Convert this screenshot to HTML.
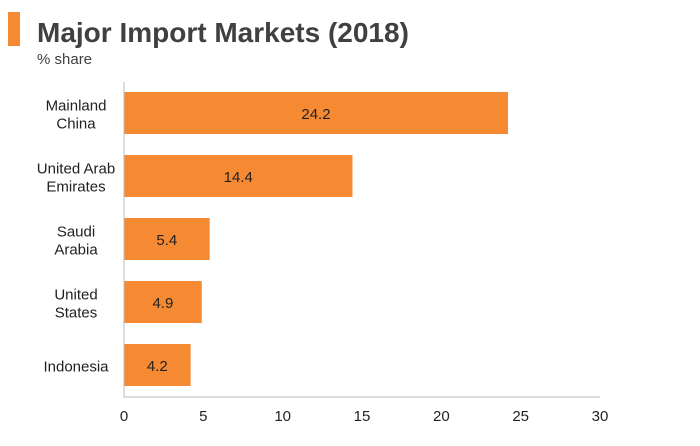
<!DOCTYPE html>
<html><head><meta charset="utf-8"><style>
body{margin:0;background:#fff;font-family:"Liberation Sans",Arial,sans-serif}
svg{display:block}
</style></head><body>
<svg width="700" height="446" xmlns="http://www.w3.org/2000/svg">
<rect x="8" y="12" width="12" height="34" fill="#f58a32"/>
<text x="37" y="42" font-size="28" font-weight="bold" fill="#404040">Major Import Markets (2018)</text>
<text x="37" y="64" font-size="15" fill="#404040">% share</text>
<g id="plot"></g>
</svg>
<script>
const categories=[["Mainland","China"],["United Arab","Emirates"],["Saudi","Arabia"],["United","States"],["Indonesia"]];
const values=[24.2,14.4,5.4,4.9,4.2];
const ticks=[0,5,10,15,20,25,30];
const x0=124,x1=600,yTop=82,yBot=397,xMax=30;
const xs=v=>x0+(v/xMax)*(x1-x0);
const band=(yBot-yTop)/categories.length;
const ys=i=>yTop+i*band;
const ns="http://www.w3.org/2000/svg";
const g=document.getElementById('plot');
function mk(t,a,txt){const e=document.createElementNS(ns,t);for(const k in a)e.setAttribute(k,a[k]);if(txt!=null)e.textContent=txt;g.appendChild(e);return e;}
values.forEach((v,i)=>{
 const y=ys(i)+10,h=band-21;
 const r=mk('rect',{x:x0,y:y,width:xs(v)-x0,height:h,fill:'#f58a32'});
 
 
 const t=mk('text',{x:(x0+xs(v))/2,y:y+h/2+6,'font-size':15,'text-anchor':'middle',fill:'#222'},v.toFixed(1));
 
 
 const lines=categories[i];
 lines.forEach((ln,j)=>{
  const cy=ys(i)+band/2+6+(j-(lines.length-1)/2)*18;
  const l=mk('text',{x:76,y:cy,'font-size':15,'text-anchor':'middle',fill:'#222'},ln);
  
  
 });
});
const ya=mk('line',{x1:x0,y1:yTop,x2:x0,y2:yBot,stroke:'#bbb','stroke-width':1});


const xa=mk('line',{x1:x0,y1:yBot,x2:x1,y2:yBot,stroke:'#bbb','stroke-width':1});


ticks.forEach(t=>{
 const e=mk('text',{x:xs(t),y:421,'font-size':15,'text-anchor':'middle',fill:'#222'},String(t));
 
 
});
</script>
</body></html>
